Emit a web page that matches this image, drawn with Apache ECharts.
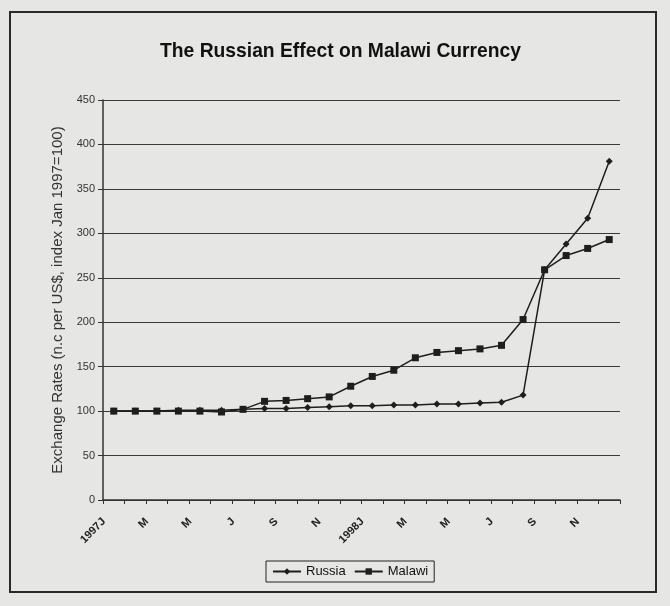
<!DOCTYPE html>
<html>
<head>
<meta charset="utf-8">
<script src="https://cdn.jsdelivr.net/npm/echarts@6/dist/echarts.min.js"></script>
<style>
  html, body { margin: 0; padding: 0; background: #e6e6e4; }
  #chart { width: 670px; height: 606px; }
</style>
</head>
<body>
<div id="chart"></div>
<script>
// Monthly categories, Jan 1997 – Dec 1998
const months = ['1997J','F','M','A','M','J','J','A','S','O','N','D',
                '1998J','F','M','A','M','J','J','A','S','O','N','D'];

// Exchange-rate index (national currency per US$, Jan 1997 = 100)
const russia = [100, 100, 100, 101, 101, 101, 102, 103, 103, 104, 105, 106,
                106, 107, 107, 108, 108, 109, 110, 118, 259, 288, 317, 381];
const malawi = [100, 100, 100, 100, 100, 99, 102, 111, 112, 114, 116, 128,
                139, 146, 160, 166, 168, 170, 174, 203, 259, 275, 283, 293];

const seriesNames = ['Russia', 'Malawi'];
const yTitle = 'Exchange Rates (n.c per US$, index Jan 1997=100)';
const chartTitle = 'The Russian Effect on Malawi Currency';

const FONT = '"Liberation Sans", Arial, sans-serif';
const INK = '#1e1e1e';

const chart = echarts.init(document.getElementById('chart'), null, { renderer: 'canvas' });

chart.setOption({
  backgroundColor: '#e6e6e4',
  animation: false,
  textStyle: { fontFamily: FONT },
  title: {
    text: chartTitle,
    left: 155,
    top: 37,
    textStyle: { fontFamily: FONT, fontSize: 19.3, fontWeight: 'bold', color: '#111' }
  },
  graphic: [{
    type: 'rect',
    shape: { x: 10, y: 12, width: 646, height: 580 },
    style: { fill: null, stroke: '#2a2a2a', lineWidth: 2 },
    silent: true,
    z: -1
  }],
  legend: {
    data: seriesNames,
    bottom: 24,
    left: 266,
    itemWidth: 28,
    itemHeight: 8,
    itemGap: 8,
    padding: [4, 6, 4, 6],
    borderColor: '#222',
    borderWidth: 1,
    textStyle: { fontFamily: FONT, fontSize: 13, color: '#111' }
  },
  grid: { left: 103, right: 50, top: 100, bottom: 106, containLabel: false },
  xAxis: {
    type: 'category',
    data: months,
    boundaryGap: true,
    axisLine: { lineStyle: { color: '#333', width: 1.5 } },
    axisTick: { show: true, alignWithLabel: false, interval: 0, length: 4, lineStyle: { color: '#333' } },
    axisLabel: {
      interval: 1,
      rotate: 45,
      margin: 10,
      padding: [0, 14, 0, 0],
      fontSize: 11,
      fontWeight: 'bold',
      color: '#222',
      fontFamily: FONT
    }
  },
  yAxis: {
    type: 'value',
    min: 0,
    max: 450,
    interval: 50,
    name: yTitle,
    nameLocation: 'middle',
    nameGap: 37,
    nameTextStyle: { fontFamily: FONT, fontSize: 15, color: '#333' },
    axisLine: { show: true, lineStyle: { color: '#333', width: 1.5 } },
    axisTick: { show: true, length: 5, lineStyle: { color: '#333' } },
    axisLabel: { fontSize: 11, color: '#333', margin: 8, fontFamily: FONT },
    splitLine: { show: true, lineStyle: { color: '#3a3a3a', width: 1.2 } }
  },
  series: [
    {
      name: seriesNames[0],
      type: 'line',
      data: russia,
      symbol: 'diamond',
      symbolSize: 7,
      itemStyle: { color: INK },
      lineStyle: { color: INK, width: 1.5 },
      z: 3
    },
    {
      name: seriesNames[1],
      type: 'line',
      data: malawi,
      symbol: 'rect',
      symbolSize: 7,
      itemStyle: { color: INK },
      lineStyle: { color: INK, width: 1.5 },
      z: 2
    }
  ]
});
</script>
</body>
</html>
